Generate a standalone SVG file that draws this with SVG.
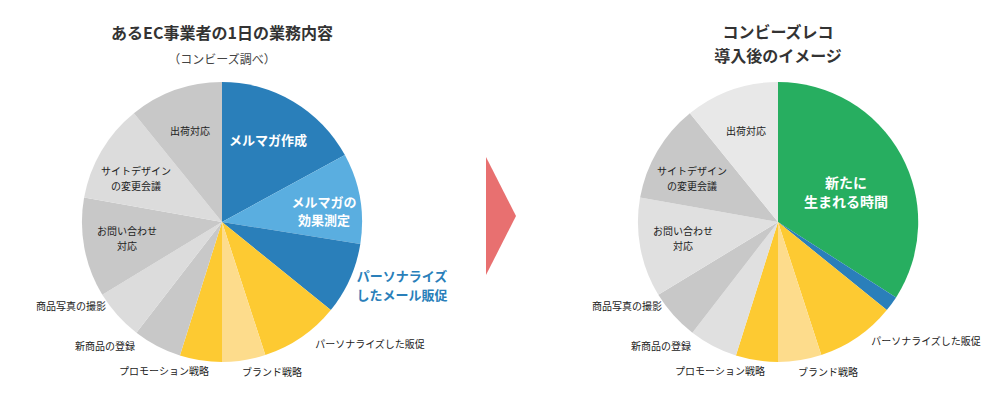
<svg xmlns="http://www.w3.org/2000/svg" width="1000" height="405" viewBox="0 0 1000 405">
<style>
text{font-family:"Noto Sans CJK JP","Noto Sans",sans-serif;fill:#222}
.t{font-size:16px;font-weight:bold;fill:#333;text-anchor:middle}
.l{font-size:10px;text-anchor:middle}
.w{font-size:13px;font-weight:bold;fill:#fff;text-anchor:middle}
path{stroke:none}
</style>
<rect width="1000" height="405" fill="#fff"/>
<g id="left-pie">
<text class="t" x="222" y="39">あるEC事業者の1日の業務内容</text>
<text class="l" x="222" y="64" style="font-size:12px;fill:#444">（コンビーズ調べ）</text>
<path d="M222,222L222,82A140,140 0 0 1 344.9,155.1Z" fill="#2a7fba"/>
<path d="M222,222L344.9,155.1A140,140 0 0 1 360.3,243.9Z" fill="#5aaee0"/>
<path d="M222,222L360.3,243.9A140,140 0 0 1 330.8,310.1Z" fill="#2a7fba"/>
<path d="M222,222L330.8,310.1A140,140 0 0 1 265.3,355.1Z" fill="#fdca32"/>
<path d="M222,222L265.3,355.1A140,140 0 0 1 222,362Z" fill="#fddc8c"/>
<path d="M222,222L222,362A140,140 0 0 1 179.9,355.5Z" fill="#fdca32"/>
<path d="M222,222L179.9,355.5A140,140 0 0 1 136.4,332.7Z" fill="#c8c8c8"/>
<path d="M222,222L136.4,332.7A140,140 0 0 1 102.3,294.8Z" fill="#dcdcdc"/>
<path d="M222,222L102.3,294.8A140,140 0 0 1 84.1,197.6Z" fill="#c8c8c8"/>
<path d="M222,222L84.1,197.6A140,140 0 0 1 133.9,113.2Z" fill="#dcdcdc"/>
<path d="M222,222L133.9,113.2A140,140 0 0 1 222,82Z" fill="#c8c8c8"/>
<text class="w" x="268" y="145">メルマガ作成</text>
<text class="w" x="324" y="207">メルマガの</text>
<text class="w" x="324" y="225">効果測定</text>
<text x="402" y="281" style="font-size:13px;font-weight:bold;fill:#2a7fba;text-anchor:middle">パーソナライズ</text>
<text x="402" y="300" style="font-size:13px;font-weight:bold;fill:#2a7fba;text-anchor:middle">したメール販促</text>
<text class="l" x="190" y="135">出荷対応</text>
<text class="l" x="136" y="175">サイトデザイン</text>
<text class="l" x="136" y="190">の変更会議</text>
<text class="l" x="127" y="235">お問い合わせ</text>
<text class="l" x="127" y="250">対応</text>
<text class="l" x="71" y="310">商品写真の撮影</text>
<text class="l" x="105" y="350">新商品の登録</text>
<text class="l" x="164" y="375">プロモーション戦略</text>
<text class="l" x="272" y="376">ブランド戦略</text>
<text class="l" x="370" y="348">パーソナライズした販促</text>
</g>
<g id="arrow"><path d="M486,157L516,216L486,275Z" fill="#e87070"/></g>
<g id="right-pie">
<text class="t" x="778" y="38">コンビーズレコ</text>
<text class="t" x="778" y="62">導入後のイメージ</text>
<path d="M778,222L778,82A140,140 0 0 1 896.1,297.5Z" fill="#27ae60"/>
<path d="M778,222L896.1,297.5A140,140 0 0 1 886.8,310.1Z" fill="#2a7fba"/>
<path d="M778,222L886.8,310.1A140,140 0 0 1 821.3,355.1Z" fill="#fdca32"/>
<path d="M778,222L821.3,355.1A140,140 0 0 1 778,362Z" fill="#fddc8c"/>
<path d="M778,222L778,362A140,140 0 0 1 735.9,355.5Z" fill="#fdca32"/>
<path d="M778,222L735.9,355.5A140,140 0 0 1 692.4,332.7Z" fill="#e0e0e0"/>
<path d="M778,222L692.4,332.7A140,140 0 0 1 658.3,294.8Z" fill="#c8c8c8"/>
<path d="M778,222L658.3,294.8A140,140 0 0 1 640.1,197.6Z" fill="#e0e0e0"/>
<path d="M778,222L640.1,197.6A140,140 0 0 1 689.9,113.2Z" fill="#c8c8c8"/>
<path d="M778,222L689.9,113.2A140,140 0 0 1 778,82Z" fill="#e8e8e8"/>
<text class="w" x="846" y="188" style="font-size:14px">新たに</text>
<text class="w" x="846" y="207" style="font-size:14px">生まれる時間</text>
<text class="l" x="746" y="135">出荷対応</text>
<text class="l" x="692" y="175">サイトデザイン</text>
<text class="l" x="692" y="190">の変更会議</text>
<text class="l" x="683" y="235">お問い合わせ</text>
<text class="l" x="683" y="250">対応</text>
<text class="l" x="627" y="310">商品写真の撮影</text>
<text class="l" x="661" y="350">新商品の登録</text>
<text class="l" x="720" y="375">プロモーション戦略</text>
<text class="l" x="828" y="376">ブランド戦略</text>
<text class="l" x="926" y="345">パーソナライズした販促</text>
</g>
</svg>
